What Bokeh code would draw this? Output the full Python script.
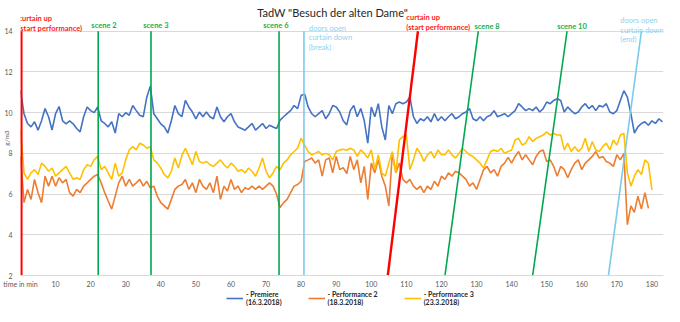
from bokeh.plotting import figure
from bokeh.layouts import column
from bokeh.models import Label, Legend, LegendItem, Range1d, FixedTicker, ColumnDataSource
from bokeh.embed import file_html
from bokeh.resources import INLINE

# ---------------- data ----------------
premiere = [11.08, 9.95, 9.47, 9.3, 9.55, 9.14, 9.6, 10.2, 9.8, 9.15,
            9.95, 10.3, 9.6, 9.45, 9.6, 9.45, 9.22, 9.06, 9.8, 10.28,
            10.1, 10.0, 10.28, 9.6, 9.47, 9.3, 9.55, 9.0, 9.95, 9.8,
            10.0, 9.87, 10.35, 10.1, 9.87, 9.8, 10.76, 11.3, 9.95, 9.7,
            9.45, 9.3, 9.0, 9.6, 10.35, 9.95, 9.8, 10.6, 10.28, 10.03,
            9.7, 10.03, 9.8, 10.03, 9.8, 9.7, 10.28, 9.8, 9.55, 9.8,
            9.95, 9.55, 9.3, 9.22, 9.14, 9.3, 9.47, 9.14, 9.3, 9.47,
            9.22, 9.38, 9.3, 9.22, 9.63, 9.8, 9.95, 10.1, 10.35, 10.2,
            10.84, 10.92, 10.28, 9.95, 9.8, 9.95, 10.1, 9.7, 9.95, 10.35,
            10.28, 10.03, 9.6, 9.4, 10.1, 10.35, 9.8, 10.2, 9.6, 8.5,
            10.28, 9.8, 10.44, 9.3, 8.66, 10.35, 9.95, 10.44, 10.52, 10.44,
            10.52, 10.76, 9.8, 9.47, 9.7, 9.6, 9.8, 9.55, 9.95, 9.6,
            9.8, 9.6, 9.8, 9.95, 9.7, 9.8, 9.95, 10.03, 10.2, 9.7,
            9.6, 9.8, 9.6, 9.8, 9.87, 10.1, 9.8, 9.87, 9.95, 9.8,
            9.95, 10.1, 10.44, 10.28, 10.1, 10.2, 10.1, 10.28, 10.03, 10.2,
            10.52, 10.44, 10.6, 10.68, 10.6, 10.03, 10.28, 10.1, 9.95, 10.03,
            10.28, 10.44, 10.2, 10.35, 10.1, 10.35, 10.28, 10.44, 10.03, 9.95,
            10.1, 10.6, 11.08, 10.76, 9.95, 9.0, 9.3, 9.47, 9.55, 9.38,
            9.6, 9.47, 9.7, 9.55]

performance2 = [7.85, 5.58, 6.23, 5.74, 6.72, 6.07, 5.58, 6.88, 6.39, 6.88,
                6.39, 6.8, 6.55, 6.72, 6.07, 5.9, 6.23, 6.07, 6.39, 6.55,
                6.72, 6.88, 6.96, 6.55, 6.07, 5.66, 5.26, 5.9, 6.55, 6.88,
                6.39, 6.72, 6.39, 6.55, 6.72, 6.39, 6.63, 6.31, 6.39, 5.9,
                5.58, 5.42, 5.26, 5.74, 6.23, 6.39, 6.47, 6.72, 6.23, 6.55,
                6.07, 6.72, 6.39, 6.23, 6.55, 6.07, 6.88, 5.74, 6.39, 6.15,
                6.72, 6.23, 6.39, 6.07, 6.31, 6.23, 6.39, 6.23, 6.39, 6.23,
                6.39, 6.55, 6.39, 5.99, 5.34, 5.58, 5.74, 6.07, 6.39, 6.47,
                6.63, 7.6, 7.68, 7.77, 7.52, 7.68, 6.88, 7.68, 7.77, 7.04,
                7.85, 7.2, 7.3, 7.0, 7.85, 7.2, 7.68, 6.55, 7.36, 5.74,
                7.52, 7.04, 7.68, 6.88, 6.39, 5.42, 8.0, 7.04, 7.52, 6.72,
                6.55, 6.72, 6.39, 6.23, 6.39, 6.07, 6.39, 6.23, 6.63, 6.39,
                6.88, 6.72, 7.04, 6.88, 7.12, 7.04, 6.88, 6.72, 6.39, 6.55,
                6.23, 6.72, 7.2, 7.36, 7.04, 7.2, 6.88, 7.36, 7.52, 7.8,
                7.52, 7.85, 8.09, 7.68, 7.93, 7.68, 7.44, 7.85, 8.09, 8.17,
                7.6, 7.68, 7.36, 6.88, 7.36, 7.2, 6.8, 7.2, 7.52, 7.68,
                7.2, 7.52, 7.68, 7.85, 8.09, 7.77, 7.85, 7.6, 7.52, 7.36,
                7.93, 7.68, 8.0, 4.5, 5.42, 5.1, 5.9, 5.26, 6.07, 5.3]

performance3 = [9.14, 7.04, 6.72, 7.04, 7.2, 6.96, 7.52, 7.36, 7.12, 7.28,
                6.88, 7.04, 7.2, 7.36, 7.04, 6.72, 6.8, 6.72, 7.2, 7.44,
                7.36, 7.68, 7.85, 7.2, 7.36, 7.04, 6.72, 7.52, 6.88, 7.04,
                7.68, 8.17, 8.33, 8.17, 8.5, 8.41, 8.25, 8.33, 7.68, 7.52,
                7.28, 6.96, 6.8, 7.12, 7.77, 7.28, 7.9, 8.25, 7.85, 7.44,
                8.09, 7.6, 7.52, 7.6, 7.44, 7.36, 7.52, 7.68, 7.44, 7.28,
                7.52, 7.36, 7.12, 7.2, 7.04, 7.28, 7.12, 6.88, 7.28, 7.77,
                7.12, 6.8, 7.04, 7.36, 7.2, 7.52, 7.68, 7.93, 8.09, 8.25,
                8.74, 8.41, 8.09, 7.93, 8.0, 8.09, 7.93, 8.0, 7.93, 7.68,
                8.09, 8.17, 8.2, 8.15, 8.25, 8.17, 7.85, 8.17, 8.0, 7.77,
                8.17, 7.2, 7.93, 7.04, 6.88, 7.52, 8.09, 7.04, 8.66, 8.82,
                8.9, 7.2, 7.68, 8.25, 8.0, 7.6, 7.93, 8.09, 7.77, 8.17,
                7.93, 7.93, 8.17, 7.93, 7.77, 8.0, 8.25, 8.09, 7.93, 7.85,
                7.68, 7.52, 7.28, 7.68, 8.09, 8.17, 8.09, 8.25, 8.0, 8.09,
                8.17, 8.66, 8.74, 8.41, 8.5, 8.82, 8.58, 8.74, 8.82, 8.9,
                9.06, 8.9, 8.98, 8.9, 8.9, 8.17, 8.5, 8.09, 8.33, 8.09,
                8.25, 8.74, 8.09, 8.58, 8.17, 8.09, 8.33, 8.5, 8.17, 8.66,
                8.41, 8.9, 8.98, 7.04, 6.39, 6.88, 7.2, 6.96, 7.68, 7.5,
                6.2]

series_names = ["- Premiere\n(16.3.2018)", "- Performance 2\n(18.3.2018)", "- Performance 3\n(23.3.2018)"]
chart_title = 'TadW "Besuch der alten Dame"'
y_label = "g/m3"

x_ticks = [0, 10, 20, 30, 40, 50, 60, 70, 80, 90, 100, 110, 120, 130, 140, 150, 160, 170, 180]
y_ticks = [2, 4, 6, 8, 10, 12, 14]

# events: minute at bottom (2 g/m3) and at top (14 g/m3) of each marker line
event_text = ["curtain up\n(start performance)", "scene 2", "scene 3", "scene 6",
              "doors open\ncurtain down\n(break)", "curtain up\n(start performance)",
              "scene 8", "scene 10", "doors open\ncurtain down\n(end)"]
event_bottom = [0.25, 22.15, 37.2, 73.7, 80.8, 104.7, 121.0, 146.0, 167.6]
event_top = [0.25, 22.15, 37.2, 73.7, 80.8, 113.3, 130.5, 155.8, 177.0]
event_kind = ["curtain", "scene", "scene", "scene", "doors", "curtain", "scene", "scene", "doors"]
event_label_x = [-0.6, 20.2, 35.0, 69.2, 82.2, 110.0, 129.4, 153.0, 171.0]
event_label_top = [14.83, 14.5, 14.5, 14.49, 14.36, 14.88, 14.45, 14.45, 14.73]

# ---------------- styles ----------------
FONT = "Lato"
series_colors = ["#4472C4", "#ED7D31", "#FFC000"]
kind_color = {"curtain": "#FF0000", "scene": "#00A84F", "doors": "#79CBEC"}
kind_width = {"curtain": 2.4, "scene": 1.6, "doors": 1.6}
kind_text_color = {"curtain": "#FF1A1A", "scene": "#19B04F", "doors": "#8ED3F0"}
kind_weight = {"curtain": "bold", "scene": "bold", "doors": "normal"}

p = figure(width=664, height=290, output_backend="svg", toolbar_location=None,
           x_range=Range1d(0, 183.3), y_range=Range1d(y_ticks[0], 15.51),
           min_border_left=0, min_border_right=1, min_border_top=0, min_border_bottom=13)

p.outline_line_color = None
p.background_fill_color = "white"
p.border_fill_color = "white"
p.xgrid.visible = False
p.ygrid.grid_line_color = "#d9d9d9"
p.ygrid.grid_line_width = 1

p.yaxis.ticker = FixedTicker(ticks=y_ticks)
p.yaxis.axis_line_color = None
p.yaxis.major_tick_line_color = None
p.yaxis.minor_tick_line_color = None
p.yaxis.major_tick_out = 0
p.yaxis.major_tick_in = 0
p.yaxis.minor_tick_out = 0
p.yaxis.major_label_text_font = FONT
p.yaxis.major_label_text_font_size = "7px"
p.yaxis.major_label_text_color = "#595959"
p.yaxis.major_label_standoff = 8
p.yaxis.axis_label = y_label
p.yaxis.axis_label_text_font = FONT
p.yaxis.axis_label_text_font_size = "6.5px"
p.yaxis.axis_label_text_font_style = "normal"
p.yaxis.axis_label_text_color = "#595959"
p.yaxis.axis_label_standoff = -9

p.xaxis.ticker = FixedTicker(ticks=x_ticks)
p.xaxis.major_label_overrides = {0: "time in min"}
p.xaxis.axis_line_color = "#d9d9d9"
p.xaxis.major_tick_line_color = None
p.xaxis.minor_tick_line_color = None
p.xaxis.major_tick_out = 0
p.xaxis.major_tick_in = 0
p.xaxis.minor_tick_out = 0
p.xaxis.major_label_text_font = FONT
p.xaxis.major_label_text_font_size = "7px"
p.xaxis.major_label_text_color = "#595959"
p.xaxis.major_label_standoff = 4

sources = []
for vals, col in zip([premiere, performance2, performance3], series_colors):
    src = ColumnDataSource(dict(t=list(range(len(vals))), v=vals))
    p.line("t", "v", source=src, line_color=col, line_width=1.6)
    sources.append(src)

ev = ColumnDataSource(dict(
    x0=event_bottom, x1=event_top,
    y0=[y_ticks[0]] * len(event_bottom), y1=[y_ticks[-1]] * len(event_bottom),
    color=[kind_color[k] for k in event_kind],
    w=[kind_width[k] for k in event_kind]))
p.segment("x0", "y0", "x1", "y1", source=ev, line_color="color", line_width="w")

for txt, lx, ly, k in zip(event_text, event_label_x, event_label_top, event_kind):
    p.add_layout(Label(x=lx, y=ly, text=txt, text_font=FONT, text_font_size="7.5px",
                       text_font_style=kind_weight[k], text_color=kind_text_color[k],
                       text_align="left", text_baseline="top", text_line_height=1.05))

# chart title, drawn inside the (extended) frame so it can share the top band with the event labels
p.add_layout(Label(x=89.0, y=14.92, text=chart_title, text_font=FONT, text_font_size="11px",
                   text_color="#262626", text_align="center", text_baseline="middle"))

# ---------------- legend strip below the chart ----------------
# the strip shows none of the data (its ranges lie below every value); it only carries the legend
lg = figure(width=664, height=16, output_backend="svg", toolbar_location=None,
            x_range=Range1d(0, 1), y_range=Range1d(0, 1), x_axis_type=None, y_axis_type=None,
            min_border=0)
lg.outline_line_color = None
lg.xgrid.visible = False
lg.ygrid.visible = False
items = []
for name, col, src in zip(series_names, series_colors, sources):
    r = lg.line("t", "v", source=src, line_color=col, line_width=1.6)
    items.append(LegendItem(label=name, renderers=[r]))
legend = Legend(items=items, orientation="horizontal", location=(206, 0),
                label_text_font=FONT, label_text_font_size="7px", label_text_font_style="bold",
                label_text_color="#262626", label_text_line_height=1.0,
                glyph_width=17, glyph_height=8, label_standoff=3, spacing=26,
                padding=0, margin=0, border_line_color=None, background_fill_alpha=0)
lg.add_layout(legend, "center")

open("out.html", "w").write(file_html(column(p, lg, spacing=0), INLINE))
